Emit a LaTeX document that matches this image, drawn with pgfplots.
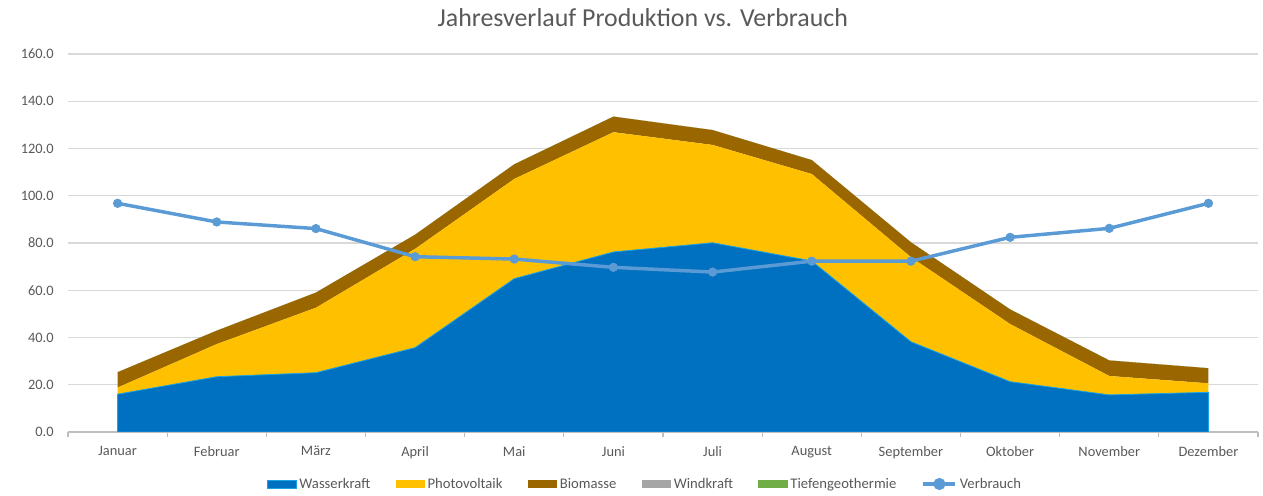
\documentclass[border=0pt]{standalone}
\usepackage{fontspec}
\setmainfont{Carlito}
\usepackage{pgfplots}
\pgfplotsset{compat=1.18}

\definecolor{wasser}{HTML}{0070C0}
\definecolor{wasseredge}{HTML}{1AA3E0}
\definecolor{pv}{HTML}{FFC000}
\definecolor{bio}{HTML}{996600}
\definecolor{wind}{HTML}{A5A5A5}
\definecolor{geo}{HTML}{70AD47}
\definecolor{verbr}{HTML}{5B9BD5}
\definecolor{txt}{HTML}{595959}
\definecolor{gridc}{HTML}{D9D9D9}

\pgfplotsset{
  arealeg/.style={legend image code/.code={
    \fill[##1] (0pt,-3pt) rectangle (22pt,3pt);}},
}

\begin{document}
\begin{tikzpicture}
\begin{axis}[
  set layers,
  scale only axis,
  width=892.5pt, height=283.5pt,
  xmin=-0.5, xmax=11.5,
  ymin=0, ymax=160,
  xtick={0,...,11},
  xticklabels={Januar, Februar, März, April, Mai, Juni, Juli, August, September, Oktober, November, Dezember},
  minor xtick={-0.5,0.5,...,11.5},
  major x tick style={draw=none},
  minor x tick style={draw=gridc!70!gray, line width=0.8pt},
  minor tick length=4pt,
  tick align=outside,
  ytick={0,20,...,160},
  ymajorgrids,
  grid style={gridc, line width=1pt},
  separate axis lines,
  axis x line*=bottom,
  axis y line*=left,
  x axis line style={draw=gridc!70!gray, line width=0.8pt},
  y axis line style={draw=none},
  major y tick style={draw=none},
  yticklabel style={/pgf/number format/fixed, /pgf/number format/fixed zerofill,
    /pgf/number format/precision=1, /pgf/number format/assume math mode=true, xshift=-3pt},
  ticklabel style={font=\fontsize{10.8}{12}\selectfont, text=txt},
  xticklabel style={yshift=-3pt},
  stack plots=y,
  title={Jahresverlauf Produktion vs. Verbrauch},
  title style={font=\fontsize{19.4}{22}\selectfont, text=txt, at={(0.483,1)}, anchor=center, yshift=21.5pt},
  legend columns=-1,
  legend style={draw=none, fill=none, at={(0.485,0)}, anchor=center, yshift=-39pt,
    font=\fontsize{11}{13}\selectfont, text=txt,
    /tikz/every even column/.append style={column sep=17pt}},
]
\addplot[fill=wasser, draw=wasseredge, line width=0.6pt, arealeg] coordinates {
  (0,16.0) (1,23.4) (2,25.1) (3,35.7) (4,64.9) (5,76.2)
  (6,80.1) (7,72.4) (8,38.2) (9,21.3) (10,15.7) (11,16.8)
} \closedcycle;
\addplot[fill=pv, draw=none, arealeg] coordinates {
  (0,2.8) (1,13.8) (2,27.5) (3,41.8) (4,42.2) (5,50.7)
  (6,41.4) (7,36.8) (8,35.8) (9,24.4) (10,8.0) (11,3.8)
} \closedcycle;
\addplot[fill=bio, draw=none, arealeg] coordinates {
  (0,6.5) (1,5.7) (2,6.4) (3,6.0) (4,6.2) (5,6.6)
  (6,6.3) (7,5.9) (8,6.3) (9,6.2) (10,6.6) (11,6.4)
} \closedcycle;
\addplot[fill=wind, draw=none, arealeg] coordinates {
  (0,0) (1,0) (2,0) (3,0) (4,0) (5,0)
  (6,0) (7,0) (8,0) (9,0) (10,0) (11,0)
} \closedcycle;
\addplot[fill=geo, draw=none, arealeg] coordinates {
  (0,0) (1,0) (2,0) (3,0) (4,0) (5,0)
  (6,0) (7,0) (8,0) (9,0) (10,0) (11,0)
} \closedcycle;
\addplot[stack plots=false, on layer=axis foreground, color=verbr, line width=2.6pt,
  mark=*, mark size=3.2pt,
  mark options={fill=verbr, draw=verbr, line width=0.5pt},
  legend image code/.code={
    \draw[verbr, line width=2.6pt] (0pt,0pt) -- (24pt,0pt);
    \fill[verbr] (12pt,0pt) circle (3.2pt);}] coordinates {
  (0,96.8) (1,88.9) (2,86.1) (3,74.2) (4,73.2) (5,69.7)
  (6,67.7) (7,72.3) (8,72.3) (9,82.4) (10,86.2) (11,96.8)
};
\legend{Wasserkraft, Photovoltaik, Biomasse, Windkraft, Tiefengeothermie, Verbrauch}
\end{axis}
\path[use as bounding box] ([xshift=-51pt,yshift=-45.75pt]current axis.south west)
  rectangle ([xshift=3.75pt,yshift=40.5pt]current axis.north east);
\end{tikzpicture}
\end{document}
